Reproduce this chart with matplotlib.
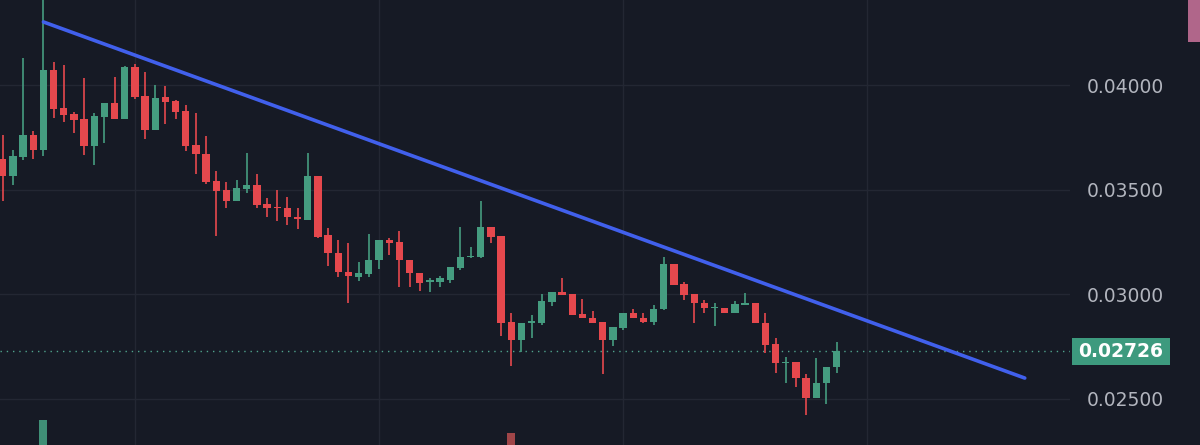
import matplotlib
matplotlib.use("Agg")
import matplotlib.pyplot as plt
from matplotlib.patches import Rectangle
import numpy as np

S = 1e-5
opens = [3646,3565,3656,3761,3689,4072,3890,3862,3838,3708,3847,3914,3838,4086,3948,3785,3943,3924,3876,3713,
         3670,3541,3498,3445,3503,3522,3431,3417,3412,3369,3354,3565,3283,3196,3105,3082,3096,3163,3259,3249,
         3163,3101,3058,3058,3067,3125,3177,3177,3321,3278,2866,2780,2861,2861,2962,3010,3000,2905,2885,2866,
         2780,2838,2909,2885,2866,2928,3144,3048,3000,2957,2933,2933,2909,2948,2957,2861,2761,2670,2675,2598,
         2503,2574,2651]
highs = [3761,3689,4130,3780,4430,4110,4096,3871,4034,3866,3914,4039,4091,4101,4062,4000,3996,3929,3905,3866,
         3756,3589,3536,3546,3675,3574,3460,3498,3464,3412,3675,3565,3316,3259,3244,3153,3287,3259,3268,3302,
         3163,3101,3077,3086,3129,3321,3225,3445,3321,3278,2909,2861,2900,3000,3010,3077,3000,2976,2919,2866,
         2842,2909,2928,2909,2948,3177,3144,3058,3000,2972,2957,2933,2967,3005,2957,2909,2790,2699,2675,2617,
         2694,2651,2771]
lows = [3445,3522,3641,3646,3661,3842,3823,3771,3665,3617,3723,3838,3838,3933,3742,3785,3814,3838,3684,3574,
        3527,3278,3412,3445,3484,3412,3369,3350,3330,3311,3354,3268,3134,3082,2957,3062,3082,3120,3187,3034,
        3034,3015,3010,3034,3053,3115,3172,3172,3244,2799,2656,2723,2790,2852,2943,2995,2900,2885,2861,2617,
        2751,2828,2885,2861,2852,2924,3043,2972,2861,2909,2847,2909,2909,2948,2861,2718,2622,2574,2555,2421,
        2503,2474,2622]
closes = [3565,3661,3761,3689,4072,3885,3857,3833,3708,3852,3914,3838,4086,3943,3785,3938,3919,3871,3708,3670,
          3536,3493,3445,3507,3522,3426,3412,3412,3369,3359,3565,3273,3196,3105,3086,3101,3163,3259,3244,3163,
          3101,3053,3067,3077,3129,3177,3182,3321,3273,2861,2780,2861,2871,2967,3010,2995,2900,2885,2861,2780,
          2842,2909,2885,2866,2928,3144,3043,2995,2957,2933,2938,2909,2952,2957,2861,2756,2670,2675,2598,2503,
          2574,2651,2726]
trend_x = [4, 100.5]
trend_y = [0.04302, 0.02598]
yticks = [0.025, 0.030, 0.035, 0.040]
ytick_labels = ["0.02500", "0.03000", "0.03500", "0.04000"]
vgrid = [13, 37, 61, 85]
last_price = 0.02726
vol_idx = [4, 50]
vol_val = [1.0, 0.5]
vol_col = ["#3f8f76", "#a04548"]

BG = "#161a25"; UP = "#459c80"; DN = "#e5484d"; GRID = "#232733"
fig = plt.figure(figsize=(12, 4.45), dpi=100, facecolor=BG)
ax = fig.add_axes([0, 0, 1070/1200, 1])
ax.set_facecolor(BG)
n = len(opens)
for i in range(n):
    o, h, l, c = opens[i]*S, highs[i]*S, lows[i]*S, closes[i]*S
    col = UP if c >= o else DN
    ax.vlines(i, l, h, color=col, lw=1.2, zorder=3)
    bot, top = min(o, c), max(o, c)
    if top - bot < 0.00004:
        bot -= 0.00002; top += 0.00002
    ax.add_patch(Rectangle((i-0.36, bot), 0.72, top-bot, facecolor=col, edgecolor=col, lw=0, zorder=4))
ax.plot(trend_x, trend_y, color="#4160ec", lw=2.6, zorder=5, solid_capstyle="round")
ax.axhline(last_price, color="#4fa38c", lw=1, ls=(0, (1, 3.5)), zorder=2)
ax.set_xlim(-0.27, 104.95)
ax.set_ylim(0.04407 - 445*4.785e-5, 0.04407)
for v in vgrid:
    ax.axvline(v, color=GRID, lw=1, zorder=0)
for t in yticks:
    ax.axhline(t, color=GRID, lw=1, zorder=0)
ax.set_xticks([])
ax.yaxis.tick_right()
ax.set_yticks(yticks)
ax.set_yticklabels(ytick_labels)
ax.tick_params(axis="y", length=0, pad=12, labelsize=13.5, labelcolor="#b2b5be")
for s in ax.spines.values():
    s.set_visible(False)
# volume
vax = fig.add_axes([0, 0, 1070/1200, 1])
vax.set_facecolor("none")
vax.bar(vol_idx, vol_val, width=0.8, color=vol_col)
vax.set_xlim(-0.27, 104.95); vax.set_ylim(0, 18)
vax.axis("off")
# last price label
fig.patches.append(Rectangle((1072/1200, 1-365/445), 98/1200, 27/445, transform=fig.transFigure,
                             facecolor="#3d9a7e", edgecolor="none"))
fig.text(1121/1200, 1-351.5/445, "0.02726", color="white", fontsize=13.5, fontweight="bold",
         va="center", ha="center")
fig.patches.append(Rectangle((1188/1200, 1-42/445), 12/1200, 42/445, transform=fig.transFigure,
                             facecolor="#b0668a", edgecolor="none"))
fig.savefig("out.png", dpi=100, facecolor=BG)
